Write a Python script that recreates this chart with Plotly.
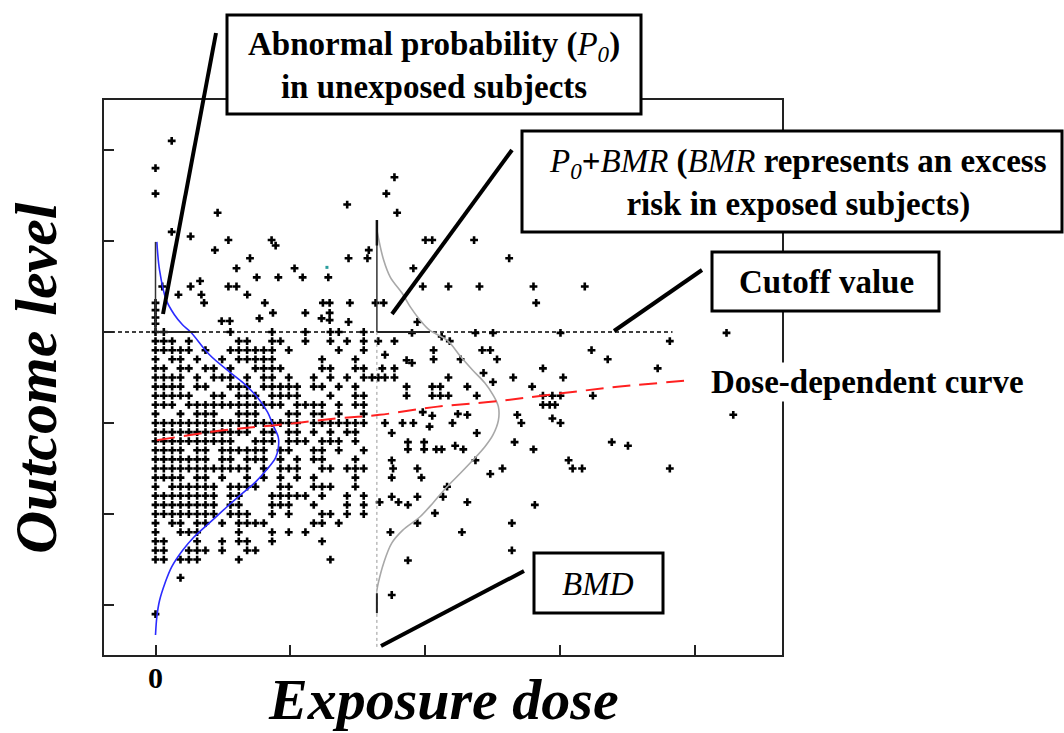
import plotly.graph_objects as go

# ------------------------------------------------------------------
# Data (dose units on x, outcome units on y)
# ------------------------------------------------------------------
CUTOFF = 3.0          # cutoff value of the outcome
BMD = 1.64            # benchmark dose
CUTOFF_END = 3.83     # where the dashed cutoff line stops
DOSE_STEP = 0.0617    # spacing of the dose grid in the dense (low dose) cluster

# dense cluster: outcome row -> dose-grid column indices holding a point
dense_rows = {
    3.0: [0, 1, 9, 14, 18, 21, 22, 25],
    2.9: [0, 1, 2, 4, 10, 11, 14, 15, 18, 21, 23, 25],
    2.8: [0, 1, 2, 3, 4, 6, 9, 10, 11, 12, 13, 14, 16, 22, 25],
    2.7: [0, 2, 3, 5, 8, 10, 11, 12, 13, 14, 20, 24],
    2.6: [0, 1, 3, 4, 6, 7, 9, 12, 13, 14, 15, 20, 21, 24, 25],
    2.5: [0, 1, 2, 3, 5, 7, 8, 9, 11, 13, 14, 16, 19, 21, 23, 25, 26],
    2.4: [0, 1, 2, 3, 5, 6, 9, 10, 11, 13, 14, 15, 16, 17, 19, 20, 22, 24],
    2.3: [0, 1, 2, 3, 4, 7, 8, 10, 11, 12, 14, 15, 16, 17, 21, 24, 25],
    2.2: [0, 1, 2, 4, 5, 6, 7, 8, 9, 10, 11, 12, 13, 14, 15, 17, 18, 19, 20, 22, 24, 25],
    2.1: [0, 3, 5, 6, 7, 10, 11, 12, 16, 17, 19, 20, 22, 25],
    2.0: [0, 1, 2, 3, 4, 5, 6, 7, 8, 9, 10, 11, 12, 13, 14, 15, 16, 17, 19, 20, 21, 22, 23, 24, 25],
    1.9: [0, 1, 2, 3, 4, 5, 6, 7, 8, 9, 10, 11, 13, 14, 16, 17, 19, 21, 23, 24],
    1.8: [0, 1, 2, 3, 4, 5, 6, 7, 8, 9, 12, 13, 14, 16, 17, 18, 20, 21, 22, 24],
    1.7: [0, 1, 2, 3, 5, 6, 8, 9, 10, 11, 12, 13, 15, 16, 19, 20, 22, 25],
    1.6: [0, 1, 2, 3, 4, 5, 6, 8, 9, 11, 12, 13, 15, 17, 19, 20, 24],
    1.5: [0, 1, 2, 3, 4, 5, 6, 7, 8, 9, 10, 11, 13, 15, 16, 17, 20, 21, 23, 24, 25],
    1.4: [0, 1, 2, 3, 5, 6, 8, 11, 13, 15, 17, 19, 24],
    1.3: [0, 2, 3, 4, 5, 6, 7, 9, 10, 11, 12, 15, 16, 19, 20, 21, 24],
    1.2: [0, 1, 2, 3, 4, 5, 6, 7, 9, 10, 14, 15, 16, 17, 18, 20, 23, 25],
    1.1: [0, 1, 2, 3, 4, 5, 6, 7, 9, 10, 14, 15, 16, 19, 23, 25],
    1.0: [0, 1, 2, 3, 4, 5, 6, 7, 9, 10, 11, 14, 16, 20, 21, 23, 25],
    0.9: [0, 2, 3, 5, 6, 8, 10, 11, 12, 13, 19, 20, 22],
    0.8: [0, 3, 4, 5, 10, 14, 16, 18],
    0.7: [0, 1, 5, 8, 10, 11, 14, 20],
    0.6: [0, 1, 4, 5, 6, 8, 11, 12],
    0.5: [0, 1, 3, 4, 5, 10, 21],
    0.3: [3],
    -0.1: [0],
}

# sparse points above the cutoff
upper_x = [0.12, 0.0, 0.0, 0.46, 1.42, 0.12, 0.26, 0.54, 0.86, 0.89, 0.44, 0.70,
           1.43, 1.57, 1.58, 0.60, 1.03, 0.75, 0.91, 1.09, 1.28, 0.05, 0.26, 0.33,
           0.54, 0.60, 0.17, 0.34, 0.68, 0.36, 0.81, 1.24, 1.29, 1.44, 1.63, 1.69,
           0.87, 1.11, 1.23, 1.29, 1.29, 0.49, 0.55, 0.77, 1.43, 1.79, 2.00, 1.91,
           1.98, 1.77, 1.71, 2.05, 2.36, 2.62, 2.17, 2.40, 2.80, 3.18, 2.82,
           0.0, 0.0, 0.0, 0.0, 1.94]
upper_y = [5.10, 4.80, 4.52, 4.31, 4.40, 4.10, 4.05, 4.01, 4.01, 3.95, 3.90, 3.81,
           3.81, 3.81, 3.90, 3.70, 3.70, 3.60, 3.60, 3.60, 3.60, 3.50, 3.50, 3.56,
           3.50, 3.50, 3.41, 3.41, 3.41, 3.32, 3.32, 3.32, 3.32, 3.32, 3.32, 3.32,
           3.21, 3.21, 3.15, 3.21, 3.13, 3.12, 3.12, 3.15, 3.11, 4.31, 4.01, 3.70,
           3.50, 4.70, 4.52, 4.01, 4.01, 3.81, 3.50, 3.50, 3.50, 3.50, 3.32,
           3.32, 3.24, 3.16, 3.09, 3.11]

# sparse points at higher doses, below the cutoff
right_x = [1.90, 2.37, 2.50, 3.00, 4.23, 2.12, 2.18, 1.77, 1.65, 3.81, 2.42, 2.48,
           2.06, 3.23, 1.70, 1.86, 1.90, 2.06, 2.26, 2.53, 3.35, 2.87, 3.72, 1.68,
           1.77, 1.65, 1.70, 1.77, 2.43, 2.17, 2.65, 3.02, 2.50, 1.86, 2.05, 2.11,
           2.31, 2.79, 1.86, 2.05, 2.11, 2.17, 2.38, 2.87, 2.94, 3.00, 3.24, 2.87,
           2.92, 2.96, 1.98, 2.24, 2.05, 1.70, 1.83, 1.91, 2.20, 2.31, 2.68, 2.71,
           2.94, 3.00, 2.03, 4.28, 1.75, 2.38, 1.87, 1.99, 1.87, 1.99, 2.08, 2.12,
           2.22, 2.28, 2.66, 2.80, 3.38, 3.50, 1.75, 1.76, 1.94, 1.75, 1.97, 2.37,
           2.57, 2.48, 3.06, 3.09, 3.16, 3.81, 2.16, 1.75, 1.80, 1.94, 1.87, 2.13,
           2.31, 1.66, 2.81, 2.07, 1.94, 1.74, 2.27, 2.64, 2.64, 1.87, 1.75]
right_y = [2.99, 2.99, 2.99, 2.99, 2.99, 2.95, 2.90, 2.90, 2.90, 2.90, 2.80, 2.80,
           2.80, 2.80, 2.75, 2.69, 2.66, 2.70, 2.70, 2.70, 2.70, 2.60, 2.60, 2.60,
           2.60, 2.50, 2.50, 2.50, 2.55, 2.50, 2.50, 2.50, 2.45, 2.40, 2.40, 2.40,
           2.40, 2.40, 2.30, 2.30, 2.30, 2.30, 2.30, 2.30, 2.30, 2.30, 2.30, 2.20,
           2.20, 2.20, 2.12, 2.10, 2.08, 2.00, 2.00, 2.00, 2.00, 2.09, 2.09, 2.00,
           2.05, 2.00, 1.96, 2.09, 1.89, 1.89, 1.79, 1.79, 1.71, 1.71, 1.71, 1.71,
           1.75, 1.71, 1.79, 1.71, 1.79, 1.75, 1.59, 1.50, 1.50, 1.40, 1.40, 1.59,
           1.50, 1.44, 1.59, 1.50, 1.50, 1.50, 1.30, 1.19, 1.13, 1.19, 1.10, 1.19,
           1.13, 1.13, 1.10, 1.01, 0.90, 0.80, 0.80, 0.90, 0.60, 0.49, 0.11]

# outcome distribution of unexposed subjects (blue), drawn sideways at dose 0
blue_x = [0.01, 0.03, 0.08, 0.14, 0.20, 0.26, 0.40, 0.55, 0.65, 0.75, 0.83, 0.87,
          0.91, 0.91, 0.89, 0.82, 0.74, 0.63, 0.53, 0.42, 0.28, 0.20, 0.12, 0.07,
          0.03, 0.01, 0.00]
blue_y = [3.99, 3.68, 3.35, 3.19, 3.08, 3.00, 2.75, 2.56, 2.44, 2.29, 2.12, 1.98,
          1.84, 1.73, 1.62, 1.48, 1.35, 1.21, 1.08, 0.93, 0.74, 0.60, 0.42, 0.24,
          0.05, -0.13, -0.33]

# outcome distribution at the BMD (gray)
gray_x = [1.64, 1.69, 1.74, 1.83, 1.89, 1.96, 2.03, 2.16, 2.26, 2.35, 2.44, 2.50,
          2.54, 2.54, 2.50, 2.44, 2.35, 2.26, 2.16, 2.06, 1.96, 1.83, 1.75, 1.69,
          1.65, 1.64]
gray_y = [4.12, 3.79, 3.60, 3.42, 3.27, 3.13, 3.02, 2.91, 2.73, 2.58, 2.44, 2.31,
          2.18, 2.03, 1.87, 1.74, 1.59, 1.45, 1.30, 1.13, 0.97, 0.82, 0.68, 0.46,
          0.24, 0.16]

# dose-dependent curve (red dashed)
red_x = [0.01, 0.50, 0.92, 1.34, 1.66, 2.09, 2.53, 2.97, 3.44, 3.97]
red_y = [1.81, 1.92, 1.98, 2.05, 2.09, 2.18, 2.24, 2.32, 2.40, 2.47]

x_ticks = [0, 1, 2, 3, 4]
x_tick_label = "0"
y_ticks = [0, 1, 2, 3, 4, 5]

# ------------------------------------------------------------------
pts_x, pts_y = [], []
for yv, cols in dense_rows.items():
    for k in cols:
        pts_x.append(k * DOSE_STEP)
        pts_y.append(yv)
pts_x += upper_x + right_x
pts_y += upper_y + right_y

SERIF = "Liberation Serif"
fig = go.Figure()

fig.add_trace(go.Scatter(x=pts_x, y=pts_y, mode="markers",
                         marker=dict(symbol="cross", size=6.5, color="black",
                                     line=dict(width=0)),
                         hoverinfo="skip", showlegend=False))
fig.add_trace(go.Scatter(x=[1.27], y=[3.71], mode="markers",
                         marker=dict(symbol="square", size=3, color="#2a9d9d"),
                         hoverinfo="skip", showlegend=False))
fig.add_trace(go.Scatter(x=[-0.3815, CUTOFF_END], y=[CUTOFF, CUTOFF], mode="lines",
                         line=dict(color="black", width=1.4, dash="4px,3px"),
                         hoverinfo="skip", showlegend=False))
fig.add_trace(go.Scatter(x=blue_x, y=blue_y, mode="lines",
                         line=dict(color="#2b2bff", width=1.6, shape="spline"),
                         hoverinfo="skip", showlegend=False))
fig.add_trace(go.Scatter(x=gray_x, y=gray_y, mode="lines",
                         line=dict(color="#a8a8a8", width=1.6, shape="spline"),
                         hoverinfo="skip", showlegend=False))
fig.add_trace(go.Scatter(x=red_x, y=red_y, mode="lines",
                         line=dict(color="#ff2020", width=2, dash="18px,9px",
                                   shape="spline"),
                         hoverinfo="skip", showlegend=False))

shapes = []
# outlines of the tail areas above the cutoff
shapes.append(dict(type="line", xref="x", yref="y", x0=0, x1=0, y0=CUTOFF, y1=blue_y[0],
                   line=dict(color="#333", width=1.5)))
shapes.append(dict(type="line", xref="x", yref="y", x0=0, x1=0.30, y0=CUTOFF, y1=CUTOFF,
                   line=dict(color="#222", width=2)))
shapes.append(dict(type="line", xref="x", yref="y", x0=BMD, x1=BMD, y0=CUTOFF, y1=4.23,
                   line=dict(color="#333", width=1.5)))
shapes.append(dict(type="line", xref="x", yref="y", x0=BMD, x1=BMD, y0=3.95, y1=4.23,
                   line=dict(color="#111", width=2.5)))
shapes.append(dict(type="line", xref="x", yref="y", x0=BMD, x1=2.03, y0=CUTOFF, y1=CUTOFF,
                   line=dict(color="#222", width=2)))
# BMD vertical dotted line
shapes.append(dict(type="line", xref="x", yref="y", x0=BMD, x1=BMD, y0=-0.46, y1=CUTOFF,
                   line=dict(color="#999", width=1, dash="dot")))
shapes.append(dict(type="line", xref="x", yref="y", x0=BMD, x1=BMD, y0=-0.09, y1=0.13,
                   line=dict(color="#222", width=2)))

L, R, T, B = 104, 782, 100, 655


def px(xp):
    return (xp - L) / (R - L)


def py(yp):
    return (B - yp) / (B - T)


leaders = [(216, 33, 163, 314), (512, 150, 392, 314),
           (702, 270, 614, 331), (524, 571, 381, 646)]
for (xa, ya, xb, yb) in leaders:
    shapes.append(dict(type="line", xref="paper", yref="paper", layer="above",
                       x0=px(xa), y0=py(ya), x1=px(xb), y1=py(yb),
                       line=dict(color="black", width=4)))

boxes = [
    (227, 641, 15, 114, 434, 66,
     "<b>Abnormal probability (</b><i>P<sub>0</sub></i><b>)</b><br><b>in unexposed subjects</b>"),
    (522, 1062, 131, 232, 798, 183,
     "<i>P<sub>0</sub></i><b>+</b><i>BMR</i><b> (</b><i>BMR</i><b> represents an excess</b>"
     "<br><b>risk in exposed subjects)</b>"),
    (712, 939, 252, 311, 826, 282, "<b>Cutoff value</b>"),
    (534, 663, 553, 613, 598, 584, "<i>BMD</i>"),
]
annotations = []
for (x0, x1, y0, y1, cx, cy, txt) in boxes:
    shapes.append(dict(type="rect", xref="paper", yref="paper", layer="above",
                       x0=px(x0), x1=px(x1), y0=py(y0), y1=py(y1),
                       fillcolor="white", line=dict(color="black", width=3)))
    annotations.append(dict(xref="paper", yref="paper", x=px(cx), y=py(cy),
                            text=txt, showarrow=False, xanchor="center",
                            yanchor="middle", align="center",
                            font=dict(family=SERIF, size=33, color="black")))

annotations.append(dict(xref="paper", yref="paper", x=px(868), y=py(382),
                        text="<b>Dose-dependent curve</b>", showarrow=False,
                        xanchor="center", yanchor="middle", bgcolor="white",
                        font=dict(family=SERIF, size=33, color="black")))
annotations.append(dict(xref="x", yref="paper", x=x_ticks[0], y=py(677),
                        text="<b>" + x_tick_label + "</b>", showarrow=False,
                        xanchor="center", yanchor="middle",
                        font=dict(family=SERIF, size=30, color="black")))
annotations.append(dict(xref="paper", yref="paper", x=px(443), y=py(699),
                        text="<b><i>Exposure dose</i></b>", showarrow=False,
                        xanchor="center", yanchor="middle",
                        font=dict(family=SERIF, size=58, color="black")))
annotations.append(dict(xref="paper", yref="paper", x=px(36), y=py(378),
                        text="<b><i>Outcome level</i></b>", showarrow=False,
                        textangle=-90, xanchor="center", yanchor="middle",
                        font=dict(family=SERIF, size=60, color="black")))

fig.update_layout(
    width=1064, height=733, autosize=False,
    margin=dict(l=L, r=1064 - R, t=T, b=733 - B, pad=0),
    paper_bgcolor="white", plot_bgcolor="white",
    showlegend=False,
    shapes=shapes, annotations=annotations,
    xaxis=dict(range=[-0.3815, 4.641], tickvals=x_ticks, showticklabels=False,
               ticks="inside", ticklen=10, tickwidth=2, tickcolor="#222",
               showline=True, linewidth=2, linecolor="#222", mirror=True,
               showgrid=False, zeroline=False),
    yaxis=dict(range=[-0.549, 5.549], tickvals=y_ticks, showticklabels=False,
               ticks="inside", ticklen=10, tickwidth=2, tickcolor="#222",
               showline=True, linewidth=2, linecolor="#222", mirror=True,
               showgrid=False, zeroline=False),
)

fig.write_html("out.html", config={"displayModeBar": False},
               post_script="document.body.style.margin='0';document.body.style.overflow='hidden';")
